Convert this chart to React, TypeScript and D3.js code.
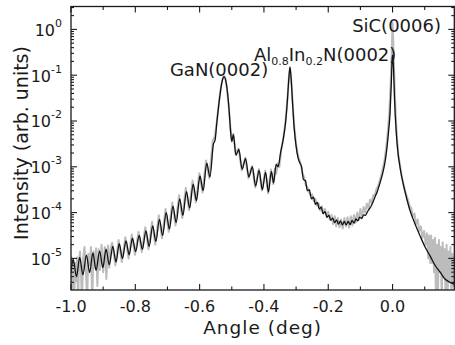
import React, { useEffect, useRef } from 'react';
import * as d3 from 'd3';

// --- chart data ---
const xMajorTicks = [-1.0, -0.8, -0.6, -0.4, -0.2, 0.0];
const xMinorTicks = [-0.9, -0.7, -0.5, -0.3, -0.1, 0.1];
const yDecades = [-5, -4, -3, -2, -1, 0];

// simulation (black): [angle (deg), log10 intensity]
const simulation: [number, number][] = [
  [-1.000, -5.30],
  [-0.993, -5.02], [-0.983, -5.40], [-0.973, -4.98], [-0.963, -5.36],
  [-0.952, -4.93], [-0.942, -5.31], [-0.932, -4.88], [-0.922, -5.26],
  [-0.911, -4.84], [-0.901, -5.20], [-0.891, -4.80], [-0.881, -5.14],
  [-0.870, -4.74], [-0.860, -5.08], [-0.850, -4.68], [-0.840, -5.00],
  [-0.829, -4.62], [-0.819, -4.92], [-0.809, -4.56], [-0.799, -4.85],
  [-0.788, -4.50], [-0.778, -4.80], [-0.767, -4.40], [-0.757, -4.74],
  [-0.746, -4.29], [-0.736, -4.63], [-0.725, -4.15], [-0.715, -4.50],
  [-0.704, -4.00], [-0.694, -4.36], [-0.683, -3.86], [-0.673, -4.22],
  [-0.662, -3.70], [-0.652, -4.06], [-0.641, -3.54], [-0.631, -3.90],
  [-0.620, -3.38], [-0.610, -3.74], [-0.599, -3.20], [-0.589, -3.52],
  [-0.578, -2.92], [-0.568, -3.22], [-0.557, -2.50], [-0.552, -2.42],
  // GaN(0002)
  [-0.546, -2.00], [-0.540, -1.62], [-0.533, -1.25], [-0.528, -1.08],
  [-0.524, -1.03], [-0.520, -1.08], [-0.515, -1.28], [-0.509, -1.70],
  [-0.504, -2.20], [-0.500, -2.45], [-0.495, -2.30],
  [-0.487, -2.75], [-0.478, -2.62], [-0.468, -3.05], [-0.457, -2.82],
  [-0.447, -3.22], [-0.436, -3.00], [-0.426, -3.42], [-0.415, -3.08],
  [-0.405, -3.50], [-0.395, -3.12], [-0.386, -3.55], [-0.377, -3.10],
  [-0.370, -3.35], [-0.362, -2.95], [-0.356, -3.00], [-0.348, -2.68],
  [-0.340, -2.40], [-0.333, -2.05],
  // AlInN(0002)
  [-0.327, -1.55], [-0.323, -1.12], [-0.319, -0.82], [-0.315, -1.12],
  [-0.311, -1.60], [-0.306, -2.15],
  [-0.300, -2.55], [-0.294, -2.80], [-0.288, -2.92], [-0.283, -3.00],
  [-0.277, -3.28], [-0.271, -3.30], [-0.265, -3.52], [-0.259, -3.50],
  [-0.252, -3.70], [-0.246, -3.66], [-0.240, -3.82], [-0.234, -3.78],
  [-0.228, -3.92], [-0.222, -3.88], [-0.216, -4.02], [-0.210, -3.98],
  [-0.204, -4.10], [-0.198, -4.06], [-0.192, -4.17], [-0.186, -4.12],
  [-0.180, -4.22], [-0.174, -4.16], [-0.168, -4.25], [-0.162, -4.18],
  [-0.156, -4.27], [-0.150, -4.19], [-0.144, -4.27], [-0.138, -4.19],
  [-0.132, -4.26], [-0.126, -4.17], [-0.120, -4.23], [-0.114, -4.14],
  [-0.108, -4.18], [-0.102, -4.10], [-0.096, -4.13], [-0.090, -4.05],
  [-0.084, -4.06], [-0.078, -3.98], [-0.072, -3.92], [-0.066, -3.85],
  [-0.060, -3.75], [-0.054, -3.65], [-0.048, -3.55], [-0.042, -3.42],
  [-0.036, -3.28], [-0.030, -3.12], [-0.024, -2.92], [-0.018, -2.62],
  [-0.013, -2.27], [-0.008, -1.85], [-0.004, -1.20], [-0.001, -0.62],
  // SiC(0006)
  [0.000, -0.56], [0.003, -0.85], [0.006, -1.50], [0.011, -2.20],
  [0.017, -2.70], [0.023, -3.00], [0.031, -3.30], [0.039, -3.55],
  [0.054, -3.95], [0.070, -4.25], [0.085, -4.50], [0.101, -4.75],
  [0.117, -4.95], [0.132, -5.15], [0.148, -5.30], [0.163, -5.45],
  [0.178, -5.52], [0.192, -5.56],
];

// measurement (grey): [angle (deg), log10 intensity]
const measurement: [number, number][] = [
  [-1.000, -4.95], [-0.998, -5.95], [-0.996, -5.00], [-0.993, -5.20],
  [-0.990, -5.95], [-0.987, -5.10], [-0.984, -5.50], [-0.981, -4.98],
  [-0.978, -5.95], [-0.975, -5.05], [-0.972, -4.85], [-0.969, -5.30],
  [-0.966, -5.95], [-0.962, -5.00], [-0.958, -4.75], [-0.954, -5.20],
  [-0.950, -5.95], [-0.946, -4.90], [-0.942, -5.15], [-0.938, -4.75],
  [-0.934, -5.90], [-0.930, -4.85], [-0.926, -5.20], [-0.922, -4.78],
  [-0.918, -5.60], [-0.914, -4.80], [-0.910, -5.25], [-0.905, -4.70],
  [-0.900, -5.30], [-0.895, -4.75], [-0.890, -5.45], [-0.885, -4.72],
  [-0.881, -5.20], [-0.876, -4.75],
  [-0.872, -4.66], [-0.862, -5.15], [-0.852, -4.60], [-0.842, -5.08],
  [-0.831, -4.54], [-0.821, -5.00], [-0.811, -4.48], [-0.801, -4.92],
  [-0.790, -4.42], [-0.780, -4.86], [-0.769, -4.32], [-0.759, -4.80],
  [-0.748, -4.20], [-0.738, -4.70], [-0.727, -4.06], [-0.717, -4.56],
  [-0.706, -3.92], [-0.696, -4.42], [-0.685, -3.78], [-0.675, -4.28],
  [-0.664, -3.62], [-0.654, -4.12], [-0.643, -3.46], [-0.633, -3.95],
  [-0.622, -3.30], [-0.612, -3.78], [-0.601, -3.14], [-0.591, -3.56],
  [-0.580, -2.86], [-0.570, -3.25], [-0.559, -2.42], [-0.553, -2.35],
  [-0.546, -1.98], [-0.540, -1.60], [-0.533, -1.22], [-0.528, -1.06],
  [-0.524, -1.02], [-0.520, -1.07], [-0.515, -1.30], [-0.509, -1.72],
  [-0.504, -2.18], [-0.500, -2.40], [-0.495, -2.28],
  [-0.488, -2.72], [-0.479, -2.60], [-0.469, -3.08], [-0.458, -2.80],
  [-0.448, -3.25], [-0.437, -2.98], [-0.427, -3.45], [-0.416, -3.05],
  [-0.406, -3.52], [-0.396, -3.08], [-0.387, -3.58], [-0.378, -3.06],
  [-0.371, -3.38], [-0.366, -3.05], [-0.362, -3.15], [-0.357, -2.92],
  [-0.352, -3.00], [-0.346, -2.62], [-0.340, -2.38], [-0.333, -2.02],
  [-0.327, -1.52], [-0.323, -1.10], [-0.319, -0.84], [-0.315, -1.10],
  [-0.311, -1.58], [-0.306, -2.10],
  [-0.300, -2.50], [-0.295, -2.72], [-0.290, -2.85], [-0.285, -2.95],
  [-0.280, -3.15], [-0.275, -3.22], [-0.270, -3.40], [-0.265, -3.45],
  [-0.260, -3.55], [-0.255, -3.62], [-0.250, -3.60], [-0.245, -3.75],
  [-0.240, -3.70], [-0.235, -3.85], [-0.230, -3.80], [-0.225, -3.95],
  [-0.220, -3.86], [-0.215, -4.02], [-0.210, -3.92], [-0.205, -4.10],
  [-0.200, -3.98], [-0.195, -4.15], [-0.190, -4.05], [-0.185, -4.25],
  [-0.180, -4.08], [-0.175, -4.30], [-0.170, -4.12], [-0.165, -4.32],
  [-0.160, -4.15], [-0.155, -4.35], [-0.150, -4.12], [-0.145, -4.30],
  [-0.140, -4.10], [-0.135, -4.33], [-0.130, -4.08], [-0.125, -4.28],
  [-0.120, -4.05], [-0.115, -4.22], [-0.110, -4.00], [-0.105, -4.15],
  [-0.100, -3.92], [-0.095, -4.10], [-0.090, -3.88], [-0.085, -4.00],
  [-0.080, -3.80], [-0.075, -3.92], [-0.070, -3.72], [-0.065, -3.78],
  [-0.060, -3.62], [-0.055, -3.62], [-0.050, -3.48], [-0.045, -3.42],
  [-0.040, -3.30], [-0.035, -3.18], [-0.030, -3.02], [-0.025, -2.85],
  [-0.020, -2.60], [-0.015, -2.25], [-0.010, -1.80], [-0.006, -1.20],
  [-0.003, -0.60], [-0.001, -0.10], [0.000, 0.15], [0.002, -0.20],
  [0.004, -0.70], [0.007, -1.35], [0.010, -1.90], [0.014, -2.40],
  [0.018, -2.75], [0.023, -2.95], [0.028, -3.20], [0.033, -3.35],
  [0.038, -3.50], [0.043, -3.62], [0.048, -3.72], [0.053, -3.85],
  [0.058, -3.90], [0.063, -4.08], [0.068, -4.02], [0.073, -4.25],
  [0.078, -4.15], [0.083, -4.40], [0.088, -4.30], [0.093, -4.55],
  [0.098, -4.40], [0.103, -4.70], [0.107, -4.45], [0.111, -5.00],
  [0.114, -4.50], [0.117, -5.10], [0.120, -4.50], [0.123, -5.10],
  [0.126, -4.60], [0.129, -5.30], [0.132, -4.55], [0.135, -5.95],
  [0.138, -4.70], [0.141, -5.95], [0.144, -4.60], [0.147, -5.30],
  [0.150, -4.75], [0.153, -5.95], [0.156, -4.65], [0.159, -5.40],
  [0.162, -4.80], [0.165, -5.95], [0.168, -4.70], [0.171, -5.95],
  [0.174, -4.85], [0.177, -5.50], [0.180, -4.75], [0.183, -5.95],
  [0.186, -4.90], [0.189, -5.60], [0.192, -4.95],
];

const W = 455;
const H = 345;
const FONT = 'DejaVu Sans';
const INK = '#1a1a1a';

const App: React.FC = () => {
  const svgRef = useRef<SVGSVGElement | null>(null);

  useEffect(() => {
    if (!svgRef.current) return;
    const svg = d3.select(svgRef.current);
    svg.selectAll('*').remove();

    const left = 71, right = 454.3, top = 6.5, bottom = 290;
    const x = d3.scaleLinear().domain([-1.0, 0.192]).range([left, right]);
    const y = d3.scaleLog().domain([Math.pow(10, -5.69), Math.pow(10, 0.5)]).range([bottom, top]);

    svg.append('defs').append('clipPath').attr('id', 'plot-clip')
      .append('rect').attr('x', left).attr('y', top)
      .attr('width', right - left).attr('height', bottom - top);

    const line = d3.line<[number, number]>()
      .x(d => x(d[0]))
      .y(d => y(Math.pow(10, d[1])));

    const plot = svg.append('g').attr('clip-path', 'url(#plot-clip)');

    // measured data (grey, noisy)
    plot.append('path').datum(measurement)
      .attr('fill', 'none').attr('stroke', '#bcbcbc').attr('stroke-width', 2)
      .attr('stroke-linejoin', 'round')
      .attr('d', line.curve(d3.curveLinear));

    // simulation (black)
    plot.append('path').datum(simulation)
      .attr('fill', 'none').attr('stroke', '#111').attr('stroke-width', 1.3)
      .attr('d', line.curve(d3.curveMonotoneX));

    // frame
    svg.append('rect').attr('x', left).attr('y', top)
      .attr('width', right - left).attr('height', bottom - top)
      .attr('fill', 'none').attr('stroke', INK).attr('stroke-width', 1.3);

    // x ticks (inward, top and bottom)
    const ticks = svg.append('g').attr('stroke', INK).attr('stroke-width', 1.1);
    const xt = [...xMajorTicks.map(v => ({ v, len: 6 })), ...xMinorTicks.map(v => ({ v, len: 3.5 }))];
    xt.forEach(t => {
      ticks.append('line').attr('x1', x(t.v)).attr('x2', x(t.v)).attr('y1', bottom).attr('y2', bottom - t.len);
      ticks.append('line').attr('x1', x(t.v)).attr('x2', x(t.v)).attr('y1', top).attr('y2', top + t.len);
    });

    // y ticks (inward, left and right)
    const [yMin, yMax] = y.domain();
    const yt: { v: number; len: number }[] = [];
    for (let e = -6; e <= 0; e++) {
      for (let m = 1; m <= 9; m++) {
        const v = m * Math.pow(10, e);
        if (v >= yMin && v <= yMax) yt.push({ v, len: m === 1 ? 6 : 3 });
      }
    }
    yt.forEach(t => {
      ticks.append('line').attr('x1', left).attr('x2', left + t.len).attr('y1', y(t.v)).attr('y2', y(t.v));
      ticks.append('line').attr('x1', right).attr('x2', right - t.len).attr('y1', y(t.v)).attr('y2', y(t.v));
    });

    // x tick labels
    svg.append('g').selectAll('text').data(xMajorTicks).enter().append('text')
      .attr('x', d => x(d)).attr('y', 312)
      .attr('text-anchor', 'middle').attr('font-family', FONT).attr('font-size', 16).attr('fill', INK)
      .text(d => d3.format('.1f')(d).replace('−', '-'));

    // y tick labels 10^n
    const yl = svg.append('g').attr('font-family', FONT).attr('fill', INK);
    yDecades.forEach(e => {
      const t = yl.append('text').attr('x', 62).attr('y', y(Math.pow(10, e)) + 6.5)
        .attr('text-anchor', 'end').attr('font-size', 16);
      t.append('tspan').text('10');
      t.append('tspan').attr('dy', -9).attr('font-size', 11).text(e === 0 ? '0' : `-${-e}`);
    });

    // axis titles
    svg.append('text').attr('x', (left + right) / 2).attr('y', 334)
      .attr('text-anchor', 'middle').attr('font-family', FONT).attr('font-size', 18.5)
      .attr('letter-spacing', 1).attr('fill', INK).text('Angle (deg)');
    svg.append('text').attr('transform', `translate(28,143) rotate(-90)`)
      .attr('text-anchor', 'middle').attr('font-family', FONT).attr('font-size', 19)
      .attr('fill', INK).text('Intensity (arb. units)');

    // peak labels
    const lab = svg.append('g').attr('font-family', FONT).attr('fill', INK);
    lab.append('text').attr('x', x(-0.524) - 5).attr('y', 76)
      .attr('text-anchor', 'middle').attr('font-size', 18).text('GaN(0002)');

    const al = lab.append('text').attr('x', x(-0.319) - 36).attr('y', 61).attr('font-size', 18);
    al.append('tspan').text('Al');
    al.append('tspan').attr('dy', 4).attr('font-size', 11).text('0.8');
    al.append('tspan').attr('dy', -4).text('In');
    al.append('tspan').attr('dy', 4).attr('font-size', 11).text('0.2');
    al.append('tspan').attr('dy', -4).text('N(0002)');

    lab.append('text').attr('x', x(0) + 4).attr('y', 32)
      .attr('text-anchor', 'middle').attr('font-size', 18).text('SiC(0006)');
  }, []);

  return (
    <svg ref={svgRef} width={W} height={H}
      style={{ position: 'absolute', left: 0, top: 0, background: '#fff' }} />
  );
};

export default App;
